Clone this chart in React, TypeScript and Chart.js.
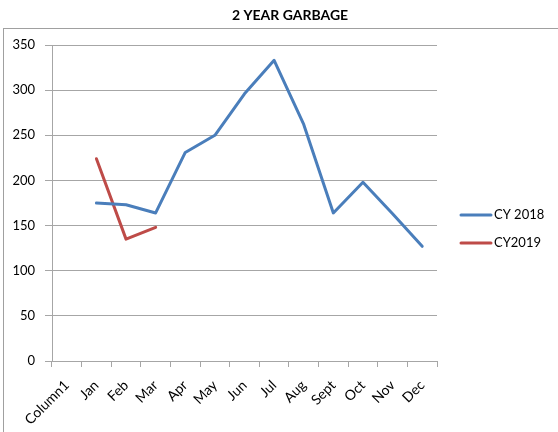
import React, { useEffect, useRef } from "react";
import { Chart, registerables } from "chart.js";

Chart.register(...registerables);

const TITLE = "2 YEAR GARBAGE";
const CATEGORIES = ["Column1", "Jan", "Feb", "Mar", "Apr", "May", "Jun", "Jul", "Aug", "Sept", "Oct", "Nov", "Dec"];
const CY2018 = [null, 175, 173, 164, 231, 250, 296, 333, 262, 164, 198, 163, 127];
const CY2019 = [null, 224, 135, 148, null, null, null, null, null, null, null, null, null];
const SERIES_NAMES = ["CY 2018", "CY2019"];
const SERIES_COLORS = ["#4a7ebb", "#be4b48"];
const Y_MAX = 350;
const Y_STEP = 50;

const FONT = "Lato, 'Noto Sans', sans-serif";
const GRID = "#a6a6a6";

const framePlugin = {
  id: "frame",
  beforeDraw(chart: any) {
    const ctx = chart.ctx;
    ctx.save();
    ctx.fillStyle = "#ffffff";
    ctx.fillRect(0, 0, chart.width, chart.height);
    ctx.strokeStyle = "#a0a0a0";
    ctx.lineWidth = 1;
    ctx.strokeRect(3.5, 28.5, chart.width + 20, chart.height + 20);
    ctx.fillStyle = "#000000";
    ctx.font = "bold 14px " + FONT;
    ctx.textAlign = "center";
    ctx.textBaseline = "middle";
    ctx.fillText(TITLE, 290, 15);
    ctx.restore();
  },
  afterDraw(chart: any) {
    const ctx = chart.ctx;
    ctx.save();
    chart.data.datasets.forEach((ds: any, i: number) => {
      const y = 215 + i * 28;
      ctx.strokeStyle = ds.borderColor;
      ctx.lineWidth = 3;
      ctx.lineCap = "round";
      ctx.beginPath();
      ctx.moveTo(461, y);
      ctx.lineTo(491, y);
      ctx.stroke();
      ctx.fillStyle = "#000000";
      ctx.font = "13px " + FONT;
      ctx.textAlign = "left";
      ctx.textBaseline = "middle";
      ctx.fillText(ds.label, 494, y);
    });
    ctx.restore();
  },
};

export default function App() {
  const ref = useRef<HTMLCanvasElement | null>(null);
  useEffect(() => {
    document.body.style.margin = "0";
    const chart = new Chart(ref.current as HTMLCanvasElement, {
      type: "line",
      data: {
        labels: CATEGORIES,
        datasets: [
          {
            label: SERIES_NAMES[0],
            data: CY2018,
            borderColor: SERIES_COLORS[0],
            backgroundColor: SERIES_COLORS[0],
            borderWidth: 3,
            pointRadius: 0,
            tension: 0,
            borderCapStyle: "round",
            borderJoinStyle: "round",
          },
          {
            label: SERIES_NAMES[1],
            data: CY2019,
            borderColor: SERIES_COLORS[1],
            backgroundColor: SERIES_COLORS[1],
            borderWidth: 3,
            pointRadius: 0,
            tension: 0,
            borderCapStyle: "round",
            borderJoinStyle: "round",
          },
        ],
      },
      options: {
        responsive: false,
        animation: false,
        layout: { padding: { left: 0, top: 45, right: 121, bottom: 0 } },
        plugins: {
          legend: { display: false },
          title: { display: false },
          tooltip: { enabled: false },
        },
        scales: {
          x: {
            type: "category",
            offset: true,
            grid: {
              offset: true,
              drawOnChartArea: false,
              drawTicks: true,
              tickLength: 6,
              color: GRID,
            },
            border: { color: GRID, width: 1 },
            ticks: {
              minRotation: 45,
              maxRotation: 45,
              autoSkip: false,
              padding: 10,
              color: "#000000",
              font: { family: FONT, size: 14 },
            },
            afterFit(scale: any) {
              scale.height = 71;
            },
          },
          y: {
            min: 0,
            max: Y_MAX,
            ticks: {
              stepSize: Y_STEP,
              padding: 10,
              color: "#000000",
              font: { family: FONT, size: 13 },
            },
            grid: { color: GRID, tickLength: 7, lineWidth: 1 },
            border: { color: GRID, width: 1 },
            afterFit(scale: any) {
              scale.width = 52;
            },
          },
        },
      },
      plugins: [framePlugin],
    } as any);
    return () => chart.destroy();
  }, []);
  return (
    <div style={{ position: "absolute", left: 0, top: 0, width: 558, height: 432 }}>
      <canvas ref={ref} width={558} height={432} style={{ display: "block" }} />
    </div>
  );
}
